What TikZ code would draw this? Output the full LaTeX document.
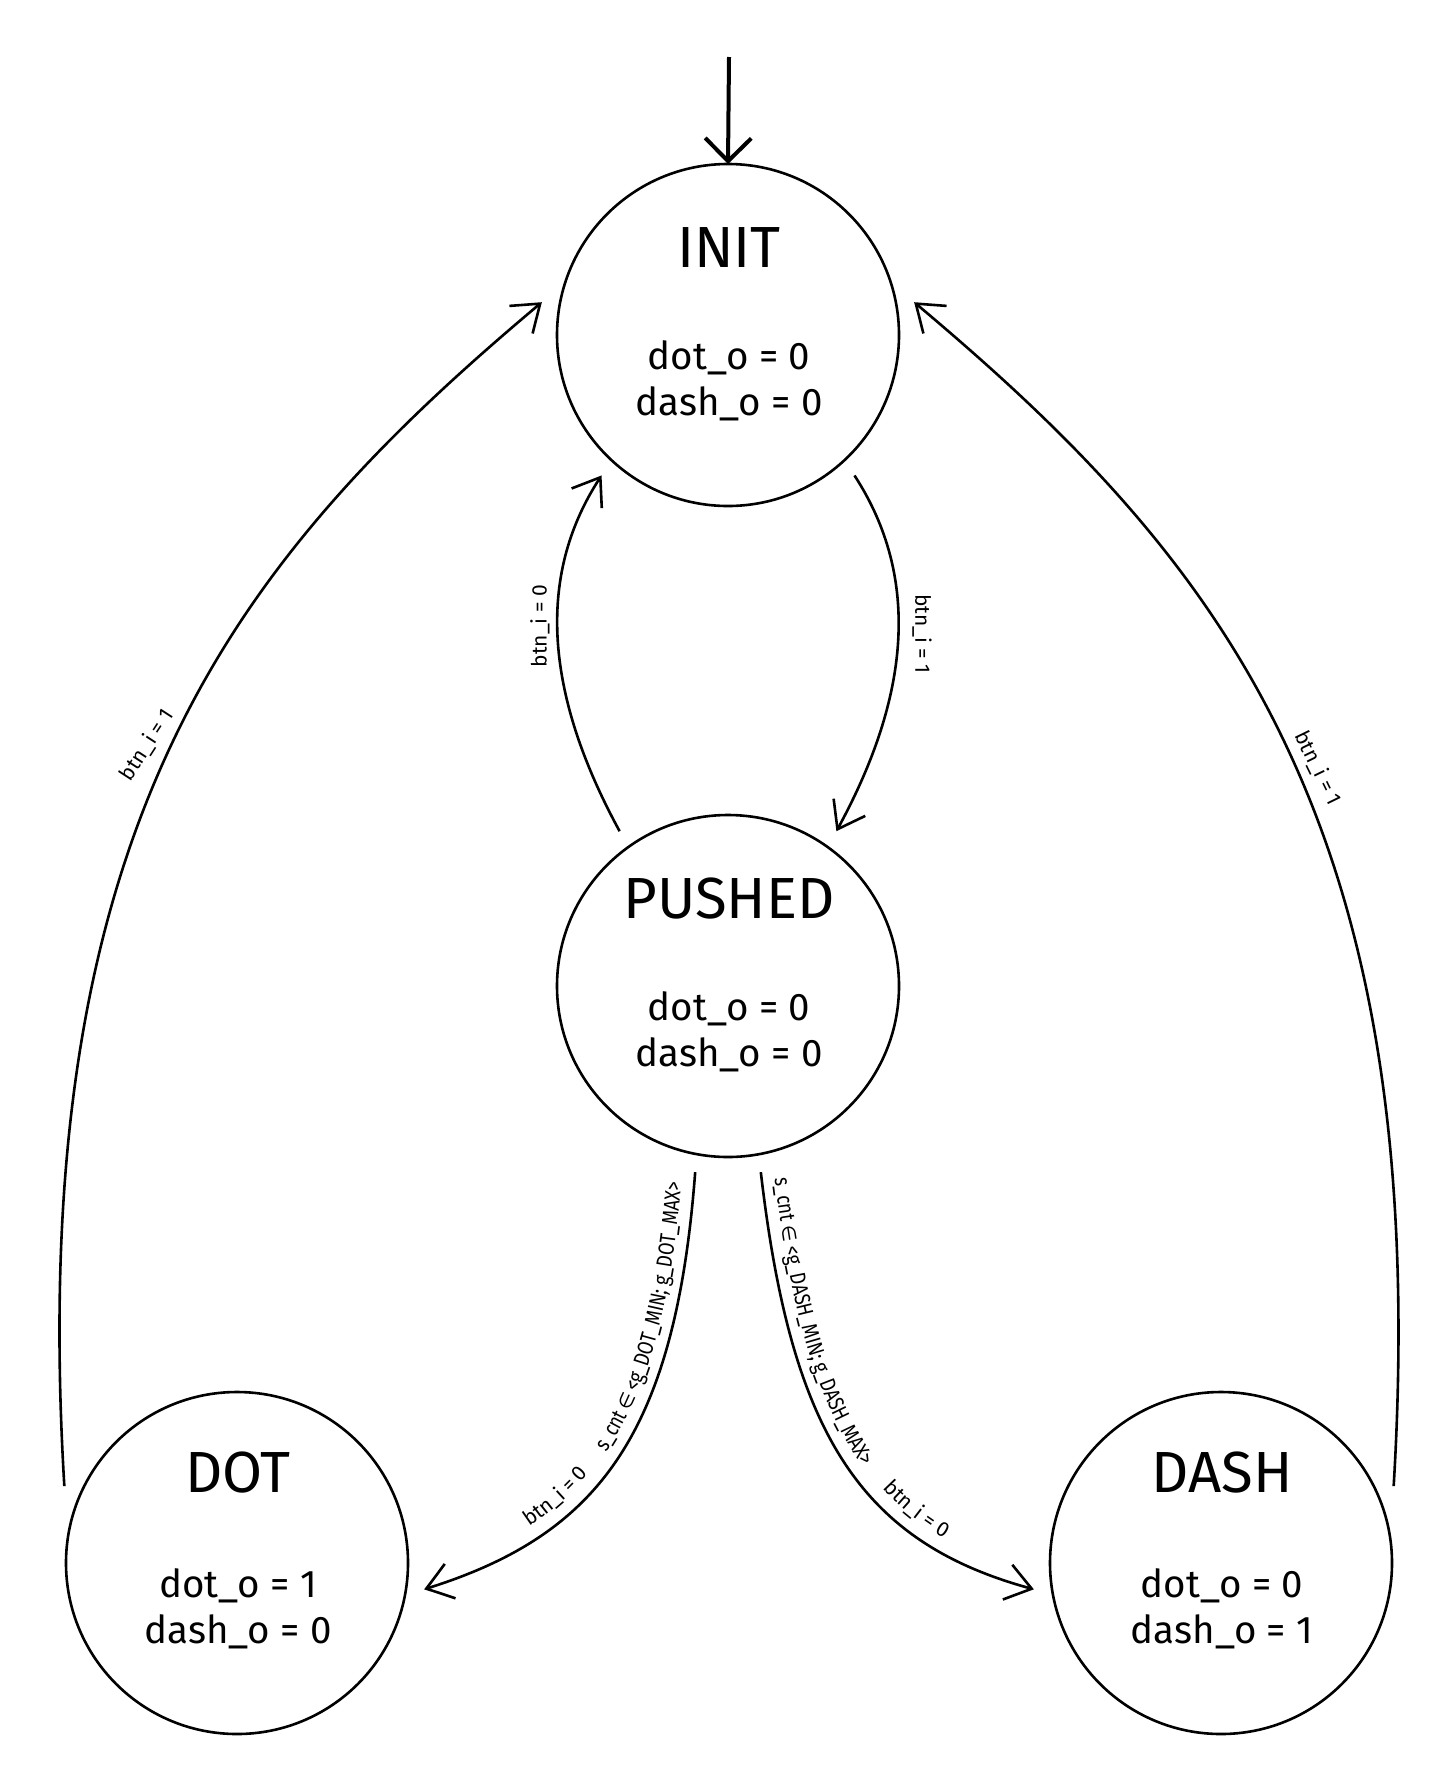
\documentclass[tikz,border=0pt]{standalone}
\usepackage{fontspec}
\setmainfont{Fira Sans}
\newfontfamily\symfont{DejaVu Sans}
\newfontfamily\lblstretch[FakeStretch=0.83]{Fira Sans}
\newcommand\lblnorm{\fontsize{21}{25}\selectfont}
\newcommand\lblcond{\lblstretch\fontsize{22}{26}\selectfont}
\newcommand\lblsym{\symfont\fontsize{19}{25}\selectfont}
\usetikzlibrary{arrows.meta,decorations.text}
\begin{document}
\begin{tikzpicture}[x=1pt,y=-1pt,
  state/.style={draw, circle, line width=2.6pt, minimum size=342pt, inner sep=0pt, outer sep=18pt},
  statetitle/.style={anchor=base, font=\fontsize{58}{70}\selectfont, inner sep=0pt},
  statebody/.style={anchor=base, font=\fontsize{38.5}{46}\selectfont, inner sep=0pt},
  edge/.style={line width=2.6pt, -{Straight Barb[length=25pt,width=36pt]}},
  lbl/.style={font=\lblnorm, inner sep=0pt}
]
\useasboundingbox (0,0) rectangle (1448,1770);

% states
\node[state] (init) at (728,335) {};
\node[statetitle] (initT) at (729,267) {INIT};
\node[statebody] (init1) at (729,369) {dot\_o = 0};
\node[statebody] (init2) at (729,415) {dash\_o = 0};

\node[state] (pushed) at (728,986) {};
\node[statetitle] (pushedT) at (729,918) {PUSHED};
\node[statebody] (pushed1) at (729,1020) {dot\_o = 0};
\node[statebody] (pushed2) at (729,1066) {dash\_o = 0};

\node[state] (dot) at (237,1563) {};
\node[statetitle] (dotT) at (238,1492) {DOT};
\node[statebody] (dot1) at (238,1597) {dot\_o = 1};
\node[statebody] (dot2) at (238,1643) {dash\_o = 0};

\node[state] (dash) at (1221,1563) {};
\node[statetitle] (dashT) at (1222,1492) {DASH};
\node[statebody] (dash1) at (1222,1597) {dot\_o = 0};
\node[statebody] (dash2) at (1222,1643) {dash\_o = 1};

% initial arrow
\coordinate (start) at (729,57);
\draw[line width=4pt, -{Straight Barb[length=23pt,width=46pt]}] (start) -- ([yshift=-18pt]init.north);

% transitions
\draw[edge] (pushed.125) .. controls +(-73,-134) and +(-67,103) .. (init.228);
\draw[edge] (init.312) .. controls +(67,103) and +(73,-134) .. (pushed.55);
\draw[edge] (dot.156) .. controls +(-40,-666) and +(-306,257) .. (init.170);
\draw[edge] (dash.24) .. controls +(40,-666) and +(306,257) .. (init.10);
\draw[edge] (pushed.260) .. controls +(-20,265) and +(172,-54) .. (dot.352);
\draw[edge] (pushed.280) .. controls +(30,258) and +(-176,-48) .. (dash.188);

% labels
\node[lbl, rotate=90] (l1) at (540,626) {btn\_i = 0};
\node[lbl, rotate=-90] (l2) at (922,634) {btn\_i = 1};
\node[lbl, rotate=57] (l3) at (147,745) {btn\_i = 1};
\node[lbl, rotate=-64] (l4) at (1318,768) {btn\_i = 1};

% labels along the lower transitions
\path[decorate, decoration={text along path, raise=14pt,
   text align={left, left indent=125pt},
   text={|\lblnorm|btn{\_}i = 0}}]
  (dot.352) .. controls +(172,-54) and +(-20,265) .. (pushed.260);
\path[decorate, decoration={text along path, raise=13pt,
   text align={right, right indent=12pt},
   text={|\lblcond|s{\_}cnt |\lblsym|∈|\lblcond| <g{\_}DOT{\_}MIN; g{\_}DOT{\_}MAX>}}]
  (dot.352) .. controls +(172,-54) and +(-20,265) .. (pushed.260);
\path[decorate, decoration={text along path, raise=13pt,
   text align={left, left indent=8pt},
   text={|\lblcond|s{\_}cnt |\lblsym|∈|\lblcond| <g{\_}DASH{\_}MIN; g{\_}DASH{\_}MAX>}}]
  (pushed.280) .. controls +(30,258) and +(-176,-48) .. (dash.188);
\path[decorate, decoration={text along path, raise=14pt,
   text align={right, right indent=105pt},
   text={|\lblnorm|btn{\_}i = 0}}]
  (pushed.280) .. controls +(30,258) and +(-176,-48) .. (dash.188);
\end{tikzpicture}
\end{document}
